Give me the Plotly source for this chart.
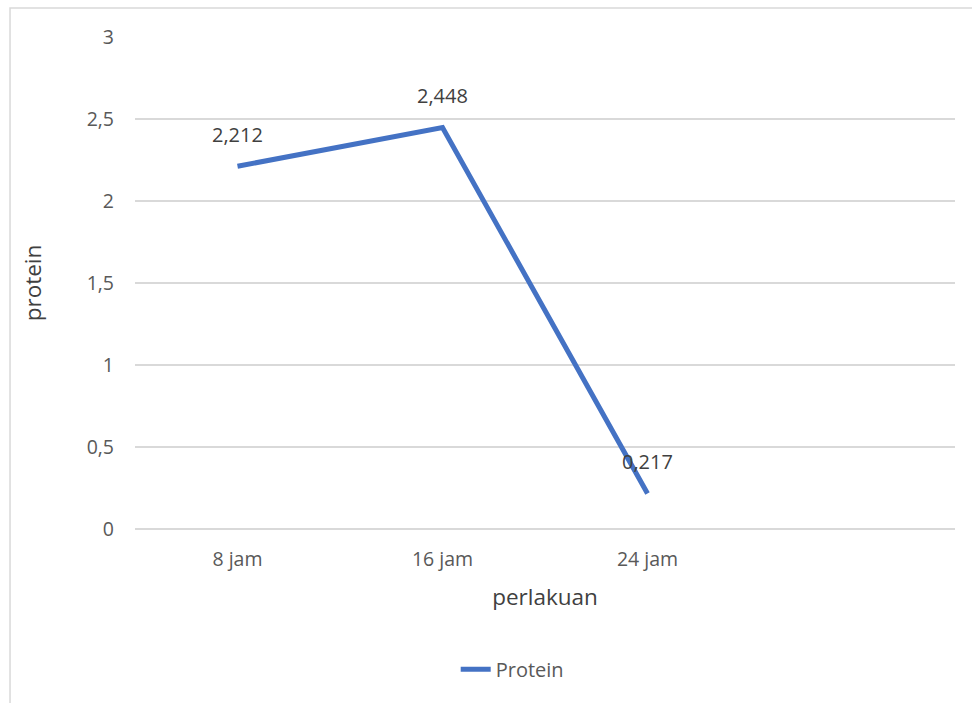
import plotly.graph_objects as go

# Protein content per treatment duration
categories = ["8 jam", "16 jam", "24 jam"]
protein = [2.212, 2.448, 0.217]
y_ticks = [0, 0.5, 1, 1.5, 2, 2.5, 3]

font_family = "Open Sans, Noto Sans, Liberation Sans, sans-serif"
text_color = "#595959"
grid_color = "#d9d9d9"

x_pos = list(range(len(categories)))

fig = go.Figure()
fig.add_trace(go.Scatter(
    x=x_pos,
    y=protein,
    mode="lines",
    name="Protein",
    line=dict(color="#4472C4", width=5),
))

# Value labels above each point, formatted with decimal commas
for xv, yv in zip(x_pos, protein):
    fig.add_annotation(
        x=xv, y=yv,
        text=f"{yv:.3f}".replace(".", ","),
        showarrow=False,
        yshift=32,
        font=dict(size=20, color="#404040"),
    )

fig.update_layout(
    width=972,
    height=703,
    margin=dict(l=135, r=17, t=37, b=174),
    paper_bgcolor="white",
    plot_bgcolor="white",
    separators=",.",
    font=dict(family=font_family, size=19.5, color=text_color),
    showlegend=True,
    legend=dict(
        orientation="h",
        x=0.46, xanchor="center",
        y=-0.285, yanchor="middle",
        font=dict(size=20, color=text_color),
    ),
    xaxis=dict(
        range=[-0.5, 3.5],
        tickmode="array",
        tickvals=x_pos,
        ticktext=categories,
        showgrid=False,
        zeroline=False,
        showline=False,
        ticks="",
        ticklabelstandoff=16,
        title=dict(text="perlakuan", font=dict(size=22.5, color="#404040"), standoff=18),
    ),
    yaxis=dict(
        range=[0, 3],
        tickmode="array",
        tickvals=y_ticks,
        showgrid=True,
        gridcolor=grid_color,
        gridwidth=1.5,
        zeroline=True,
        zerolinecolor=grid_color,
        zerolinewidth=1.5,
        showline=False,
        ticks="",
        ticklabelstandoff=20,
        title=dict(text="protein", font=dict(size=22.5, color="#404040"), standoff=38),
    ),
)

# Light chart-area border
fig.add_shape(
    type="rect", xref="paper", yref="paper",
    x0=-0.1524, x1=1.03, y0=-0.37, y1=1.0589,
    line=dict(color=grid_color, width=1.5),
    layer="below",
)

fig.write_html("out.html")
